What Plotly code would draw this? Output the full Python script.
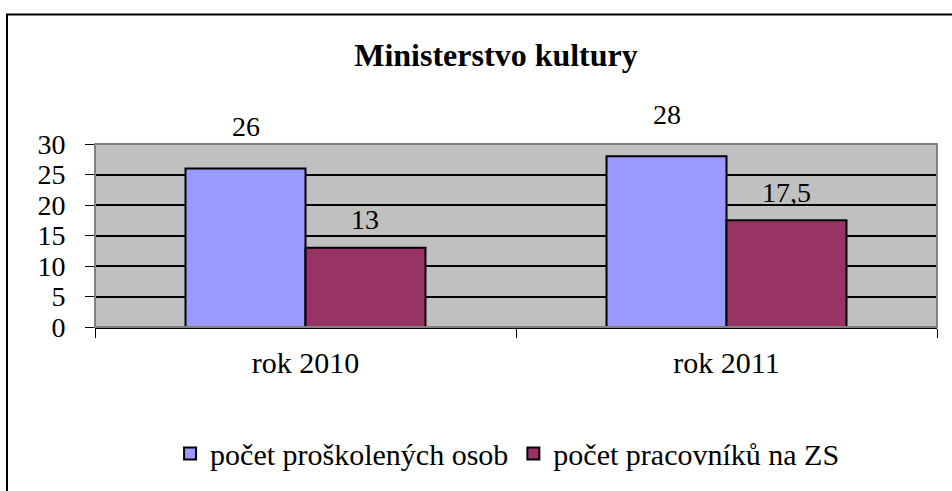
import plotly.graph_objects as go

categories = ["rok 2010", "rok 2011"]
series_names = ["počet proškolených osob", "počet pracovníků na ZS"]
proskolenych = [26, 28]
pracovniku = [13, 17.5]
y_ticks = [0, 5, 10, 15, 20, 25, 30]
title_text = "Ministerstvo kultury"

W, H = 952, 491
ML, MR, MT, MB = 95, 15, 144, 159
plot_w = W - ML - MR
plot_h = H - MT - MB
bargap = 0.43
FONT = "Liberation Serif"

colors = ["#9999FF", "#993366"]
series = [proskolenych, pracovniku]

fig = go.Figure()
for name, vals, col in zip(series_names, series, colors):
    fig.add_trace(go.Bar(
        x=categories, y=vals, name=name,
        marker=dict(color=col, line=dict(color="black", width=2)),
    ))

def fmt(v):
    s = ("%g" % v)
    return s.replace(".", ",")

cat_px = plot_w / len(categories)
bar_px = cat_px * (1 - bargap) / len(series)
yshifts = [42, 28]
for si, vals in enumerate(series):
    xs = (si - (len(series) - 1) / 2) * bar_px
    for c, v in zip(categories, vals):
        fig.add_annotation(x=c, y=v, text=fmt(v), showarrow=False,
                           xshift=xs, yshift=yshifts[si],
                           font=dict(family=FONT, size=28, color="black"))

# plot area border (gray)
fig.add_shape(type="rect", xref="paper", yref="paper", x0=0, y0=0, x1=1, y1=1,
              line=dict(color="#808080", width=2), layer="above")
# outer chart border
fig.add_shape(type="rect", xref="paper", yref="paper",
              x0=(7 - ML) / plot_w, y0=(H - MB - 11) / plot_h,
              x1=1.2, y1=-1.5,
              line=dict(color="black", width=2), layer="above")

fig.update_layout(
    width=W, height=H,
    margin=dict(l=ML, r=MR, t=MT, b=MB),
    paper_bgcolor="white",
    plot_bgcolor="#C0C0C0",
    barmode="group", bargap=bargap, bargroupgap=0,
    font=dict(family=FONT, color="black"),
    title=dict(text="<b>" + title_text + "</b>", x=496 / W, xref="container", xanchor="center",
               y=1 - 55 / H, yref="container", yanchor="middle",
               font=dict(family=FONT, size=32, color="black")),
    showlegend=True,
    legend=dict(orientation="h", x=0.49, xanchor="center",
                y=(H - MB - 462) / plot_h, yanchor="middle",
                font=dict(family=FONT, size=30, color="black"),
                itemwidth=30, tracegroupgap=0, traceorder="normal",
                bgcolor="rgba(0,0,0,0)"),
    xaxis=dict(showgrid=False, ticks="outside", ticklen=9, tickcolor="black", tickwidth=1,
               tickson="boundaries", showline=True, linecolor="black", linewidth=2,
               tickfont=dict(family=FONT, size=30, color="black"), ticklabelstandoff=8),
    yaxis=dict(range=[0, 30], tickvals=y_ticks, showgrid=True, gridcolor="black", gridwidth=1.5,
               ticks="outside", ticklen=9, tickcolor="black", tickwidth=1,
               showline=False, zeroline=False,
               tickfont=dict(family=FONT, size=28, color="black"), ticklabelstandoff=14),
)

fig.write_html("out.html", config={"displayModeBar": False},
               post_script="document.body.style.margin='0';")
